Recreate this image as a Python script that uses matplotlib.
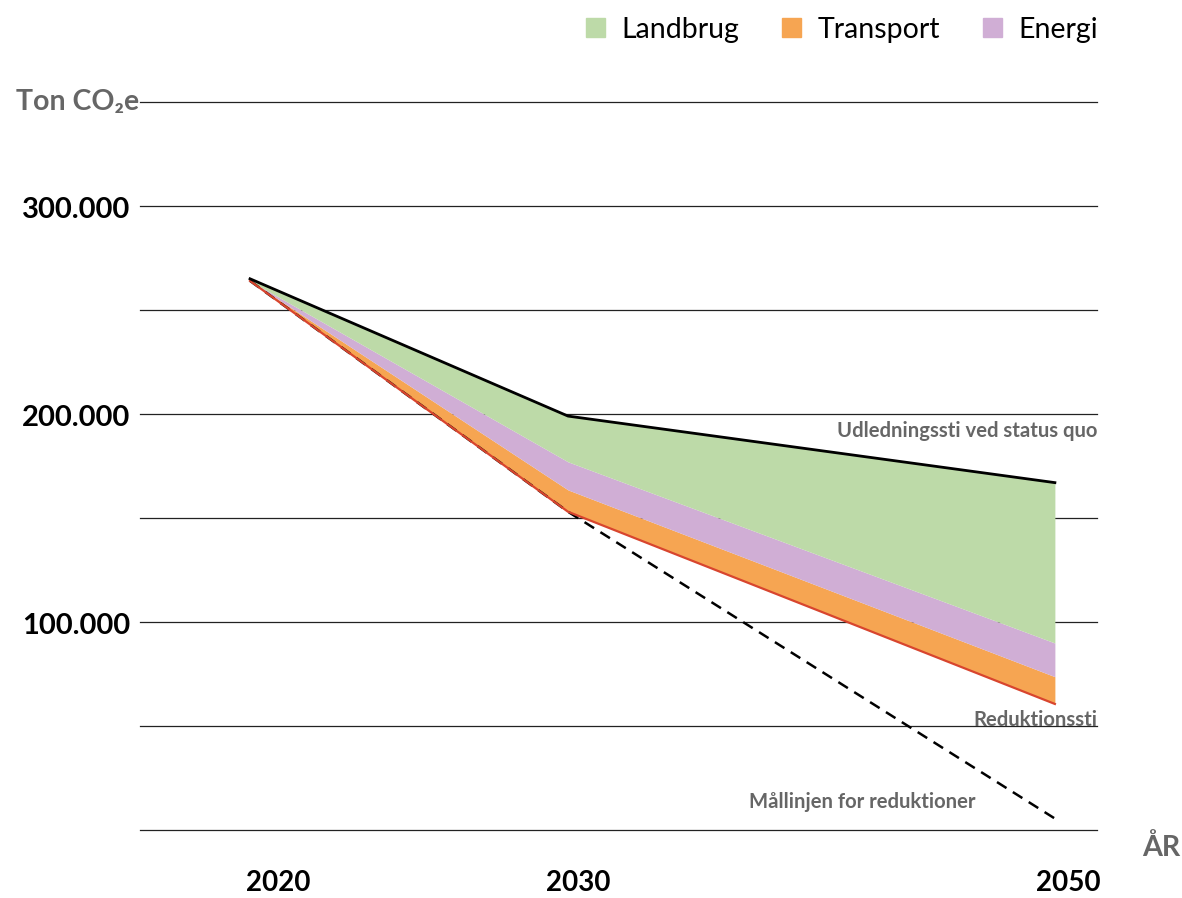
import matplotlib
matplotlib.use("Agg")
import matplotlib.pyplot as plt
import matplotlib.transforms as mtransforms
from matplotlib.patches import Patch
import numpy as np

plt.rcParams['font.family'] = ['Lato', 'DejaVu Sans']

# data (ton CO2e)
years = [2020, 2030, 2050]
status_quo = [265000, 199000, 167000]
reduktionssti = [264000, 153000, 60600]
maallinje = [264000, 153000, 5500]
transport = [0, 10500, 13100]
energi = [0, 13500, 16200]

year_labels = ["2020", "2030", "2050"]
label_shift_px = [28, 10, 13]   # the year labels sit a bit right of the points
y_labels = [100000, 200000, 300000]

green = "#bddaa8"
orange = "#f6a552"
purple = "#d0aed5"
red = "#d8452e"
grey = "#666666"

# the x axis is not linear in the original: 2020-2030 is narrower than 2030-2050
def fwd(x):
    x = np.asarray(x, dtype=float)
    return np.where(x <= 2030, (x - 2020) / 10.0, 1 + (x - 2030) / 20.0 * 1.531)

def inv(p):
    p = np.asarray(p, dtype=float)
    return np.where(p <= 1, 2020 + p * 10.0, 2030 + (p - 1) / 1.531 * 20.0)

red_arr = np.array(reduktionssti)
trans_top = red_arr + np.array(transport)
energi_top = trans_top + np.array(energi)
sq = np.array(status_quo)

fig = plt.figure(figsize=(11.82, 8.98), dpi=100)
ax = fig.add_axes([140/1182, 68/898, 957/1182, 728/898])
ax.set_xscale('function', functions=(fwd, inv))
ax.set_xlim(2016.54, 2051.73)
ax.set_ylim(0, 350000)

for v in range(0, 350001, 50000):
    ax.axhline(v, color="#222222", lw=0.9, zorder=1, clip_on=False)

ax.fill_between(years, red_arr, trans_top, color=orange, lw=0, zorder=2)
ax.fill_between(years, trans_top, energi_top, color=purple, lw=0, zorder=2)
ax.fill_between(years, energi_top, sq, color=green, lw=0, zorder=2)

ax.plot(years, maallinje, color="black", lw=1.8, ls=(0, (4.5, 3)), zorder=3)
ax.plot(years, reduktionssti, color=red, lw=1.6, zorder=4)
ax.plot(years, status_quo, color="black", lw=2.0, zorder=4)

for s in ax.spines.values():
    s.set_visible(False)
ax.set_yticks([])
ax.set_xticks(years)
ax.set_xticklabels(year_labels, fontsize=20, fontweight='bold')
ax.tick_params(axis='x', length=0, pad=29)
for lab, dx in zip(ax.get_xticklabels(), label_shift_px):
    lab.set_transform(lab.get_transform() + mtransforms.ScaledTranslation(dx / 100, 0, fig.dpi_scale_trans))

yt = ax.get_yaxis_transform()
for v in y_labels:
    ax.text(-0.01, v - 2000, f"{v:,}".replace(",", "."), transform=yt, ha='right', va='center',
            fontsize=21, fontweight='bold')
ax.text(-0.001, 350000, "Ton CO₂e", transform=yt, ha='right', va='center',
        fontsize=20.5, fontweight='bold', color=grey)

ax.text(1.0, 192000, "Udledningssti ved status quo", transform=yt, ha='right', va='center',
        fontsize=14.6, fontweight='bold', color=grey)
ax.text(1.0, 53000, "Reduktionssti", transform=yt, ha='right', va='center',
        fontsize=14.6, fontweight='bold', color=grey)
ax.text(2042.1, 13500, "Mållinjen for reduktioner", ha='center', va='center',
        fontsize=14.6, fontweight='bold', color=grey)
fig.text(1161/1182, 1 - 848/898, "ÅR", ha='center', va='center',
         fontsize=20.5, fontweight='bold', color=grey)

handles = [Patch(color=green, label="Landbrug"),
           Patch(color=orange, label="Transport"),
           Patch(color=purple, label="Energi")]
fig.legend(handles=handles, loc='upper right', bbox_to_anchor=(1104/1182, 1 - 11/898), ncol=3,
           frameon=False, fontsize=20.5, handlelength=0.65, handleheight=0.65,
           handletextpad=0.6, columnspacing=1.5, borderaxespad=0, borderpad=0.2)

fig.savefig("out.png", dpi=100)
